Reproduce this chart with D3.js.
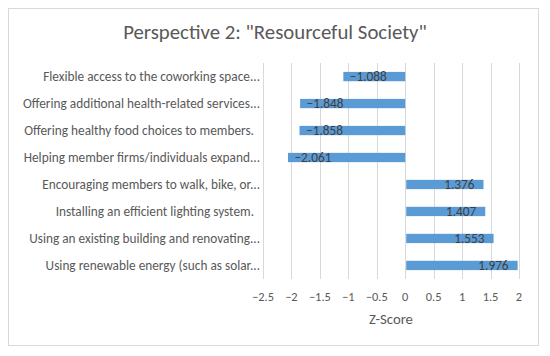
<!DOCTYPE html>
<html><head><meta charset="utf-8">
<script src="https://cdn.jsdelivr.net/npm/d3@7"></script>
<style>body{margin:0;background:#fff}svg{display:block}text{font-family:Carlito,Calibri,"Liberation Sans",Arial,sans-serif}</style>
</head><body>
<svg id="c" width="550" height="356"></svg>
<script>
const categories = [
  "Flexible access to the coworking space...",
  "Offering additional health-related services...",
  "Offering healthy food choices to members.  ",
  "Helping member firms/individuals expand...",
  "Encouraging members to walk, bike, or...",
  "Installing an efficient lighting system.  ",
  "Using an existing building and renovating...",
  "Using renewable energy (such as solar..."
];
const values = [-1.088, -1.848, -1.858, -2.061, 1.376, 1.407, 1.553, 1.976];
const tickValues = [-2.5, -2, -1.5, -1, -0.5, 0, 0.5, 1, 1.5, 2];
const title = 'Perspective 2: "Resourceful Society"';
const axisTitle = "Z-Score";

const svg = d3.select("#c");
const fmtNum = v => (v < 0 ? "\u2212" : "") + Math.abs(v).toString();
const fmt3 = v => (v < 0 ? "\u2212" : "") + Math.abs(v).toFixed(3);

svg.append("rect").attr("x", 8.5).attr("y", 8.5).attr("width", 530).attr("height", 337)
  .attr("fill", "#fff").attr("stroke", "#D9D9D9");

svg.append("text").attr("x", 275).attr("y", 39).attr("text-anchor", "middle")
  .attr("font-size", 20.8).attr("fill", "#595959").text(title);

const x = d3.scaleLinear().domain([-2.5, 2]).range([263, 519]);
const y = d3.scaleBand().domain(categories).range([63, 279]).paddingInner(0.655).paddingOuter(0.33);

// gridlines
svg.append("g").selectAll("line").data(tickValues).join("line")
  .attr("x1", d => Math.round(x(d)) + 0.5).attr("x2", d => Math.round(x(d)) + 0.5)
  .attr("y1", 63).attr("y2", 279).attr("stroke", "#D9D9D9").attr("stroke-width", 1);

// tick labels
svg.append("g").selectAll("text").data(tickValues).join("text")
  .attr("x", d => x(d)).attr("y", 301).attr("text-anchor", "middle")
  .attr("font-size", 12.4).attr("fill", "#595959").text(fmtNum);

svg.append("text").attr("x", x(-0.25)).attr("y", 324).attr("text-anchor", "middle")
  .attr("font-size", 14.7).attr("fill", "#595959").text(axisTitle);

// bars
svg.append("g").selectAll("rect").data(values).join("rect")
  .attr("x", d => Math.min(x(0), x(d)) + (d > 0 ? 1 : 0))
  .attr("width", d => Math.abs(x(d) - x(0)) - (d > 0 ? 1 : 0))
  .attr("y", (d, i) => y(categories[i]))
  .attr("height", y.bandwidth())
  .attr("fill", "#5B9BD5");

// data labels
svg.append("g").selectAll("text").data(values).join("text")
  .attr("x", d => d < 0 ? x(d) + 6.5 : x(d) - 9)
  .attr("y", (d, i) => y(categories[i]) + y.bandwidth() / 2)
  .attr("dy", "0.35em")
  .attr("text-anchor", d => d < 0 ? "start" : "end")
  .attr("font-size", 13.3).attr("fill", "#404040").text(fmt3);

// category labels
svg.append("g").selectAll("text").data(categories).join("text")
  .attr("x", 260).attr("y", d => y(d) + y.bandwidth() / 2).attr("dy", "0.35em")
  .attr("text-anchor", "end").attr("font-size", 13.3).attr("fill", "#595959")
  .attr("xml:space", "preserve").style("white-space", "pre").text(d => d);
</script>
</body></html>
